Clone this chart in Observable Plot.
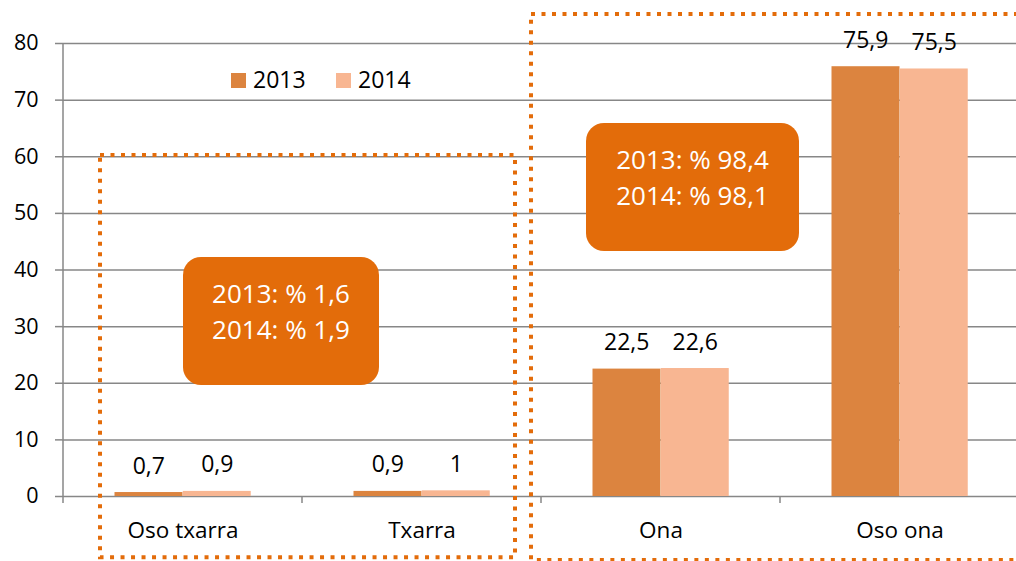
<!DOCTYPE html>
<html><head><meta charset="utf-8">
<script src="https://cdn.jsdelivr.net/npm/d3@7"></script>
<script src="https://cdn.jsdelivr.net/npm/@observablehq/plot@0.6"></script>
<style>html,body{margin:0;padding:0;background:#fff;} svg{display:block;}</style>
</head><body><div id="chart"></div>
<script>
const categories = ["Oso txarra", "Txarra", "Ona", "Oso ona"];
const years = ["2013", "2014"];
const values2013 = [0.7, 0.9, 22.5, 75.9];
const values2014 = [0.9, 1, 22.6, 75.5];
const yTicks = [0, 10, 20, 30, 40, 50, 60, 70, 80];
const noteBad = ["2013: % 1,6", "2014: % 1,9"];
const noteGood = ["2013: % 98,4", "2014: % 98,1"];
const colors = ["#DC843F", "#F8B692"];
const accent = "#E36C0A";

const fmt = v => String(v).replace(".", ",");
const data = categories.flatMap((c, i) => [
  {cat: c, year: "2013", value: values2013[i]},
  {cat: c, year: "2014", value: values2014[i]}
]);
const d13 = data.filter(d => d.year === "2013");
const d14 = data.filter(d => d.year === "2014");

const font = "'Open Sans', sans-serif";

const plot = Plot.plot({
  width: 1016, height: 561,
  marginLeft: 62, marginRight: 0, marginTop: 43, marginBottom: 65,
  style: {fontFamily: font, fontSize: "21px", color: "#000", background: "#fff", overflow: "visible"},
  x: {domain: categories, range: [62, 1020], padding: 0},
  y: {domain: [0, 80]},
  color: {domain: years, range: colors},
  marks: [
    Plot.gridY(yTicks, {stroke: "#878787", strokeOpacity: 1, strokeWidth: 1.5}),
    Plot.axisY({ticks: yTicks, tickSize: 7, tickPadding: 17, stroke: "#878787", strokeWidth: 1.5, label: null, fontSize: 21.5}),
    Plot.axisX({tickSize: 0, tickPadding: 26, label: null, fontSize: 22.5}),
    Plot.barY(d13, {x: "cat", y: "value", fill: "year", insetLeft: 51.5, insetRight: 119.5}),
    Plot.barY(d14, {x: "cat", y: "value", fill: "year", insetLeft: 119.75, insetRight: 51.25}),
    Plot.text(d13, {x: "cat", y: "value", text: d => fmt(d.value), dx: -34.25, dy: -19, lineAnchor: "bottom", fontSize: 23, fill: "#000"}),
    Plot.text(d14, {x: "cat", y: "value", text: d => fmt(d.value), dx: 34.25, dy: -19, lineAnchor: "bottom", fontSize: 23, fill: "#000"})
  ]
});

document.getElementById("chart").appendChild(plot);

const xs = plot.scale("x");
const ys = plot.scale("y");
const bw = xs.bandwidth;
const svg = d3.select(plot);

// y-axis vertical line and category boundary ticks
const x0 = xs.apply(categories[0]);
svg.append("line").attr("x1", x0).attr("x2", x0).attr("y1", ys.apply(80)).attr("y2", ys.apply(0) + 7)
  .attr("stroke", "#878787").attr("stroke-width", 1.5);
categories.slice(1).forEach(c => {
  const xb = xs.apply(c);
  svg.append("line").attr("x1", xb).attr("x2", xb).attr("y1", ys.apply(0)).attr("y2", ys.apply(0) + 7)
    .attr("stroke", "#878787").attr("stroke-width", 1.5);
});

// legend
const leg = svg.append("g").attr("text-anchor", "start");
years.forEach((yr, i) => {
  const lx = 231 + i * 105;
  leg.append("rect").attr("x", lx).attr("y", 73).attr("width", 15).attr("height", 15).attr("fill", colors[i]);
  leg.append("text").attr("x", lx + 22).attr("y", 88).attr("font-size", 23).attr("font-family", font)
    .attr("text-anchor", "start").attr("fill", "#000").text(yr);
});

// dotted group frames
const frame = (x1, y1, x2, y2) => svg.append("rect")
  .attr("x", x1).attr("y", y1).attr("width", x2 - x1).attr("height", y2 - y1)
  .attr("fill", "none").attr("stroke", accent).attr("stroke-width", 4).attr("stroke-dasharray", "4 6.5");
frame(xs.apply("Oso txarra") + 37, ys.apply(60.2), xs.apply("Txarra") + bw - 26, ys.apply(-10.8));
frame(xs.apply("Ona") - 10, ys.apply(85.1), 1040, ys.apply(-11.3));

// note boxes
const note = (x, y, w, h, lines) => {
  svg.append("rect").attr("x", x).attr("y", y).attr("width", w).attr("height", h)
    .attr("rx", 18).attr("fill", accent);
  lines.forEach((t, i) => {
    svg.append("text").attr("x", x + w / 2).attr("y", y + 46 + i * 36).attr("text-anchor", "middle")
      .attr("font-size", 26).attr("font-family", font).attr("fill", "#fff").text(t);
  });
};
note(183, 257, 196, 128, noteBad);
note(586, 123, 213, 128, noteGood);
</script>
</body></html>
